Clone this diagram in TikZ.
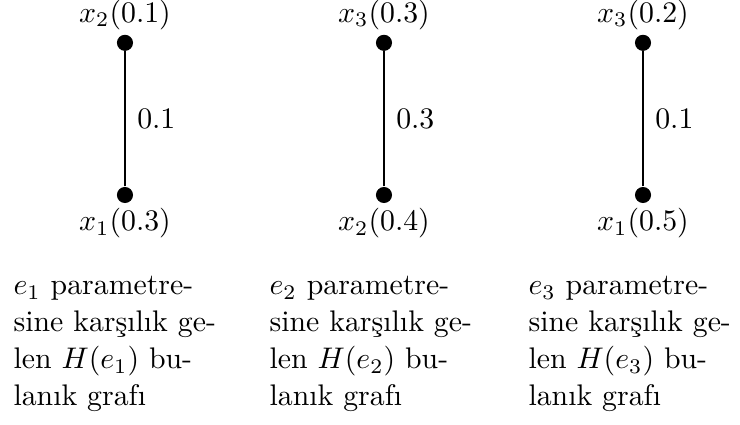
\documentclass[tikz,border=0pt]{standalone}
\usepackage{fontspec}
\usetikzlibrary{positioning}
\tikzset{
  vertex/.style={circle, fill=black, inner sep=0pt, minimum size=5.4pt},
  vlabel/.style={label distance=-2pt},
  wlabel/.style={right=0.6pt},
  caption/.style={anchor=north west, align=left, inner sep=0pt,
                  font=\fontsize{10}{12.4}\selectfont},
}

\begin{document}
\begin{tikzpicture}
  \useasboundingbox (0,0) rectangle (8.728,5.001);
  % H(e_1)
  \node[vertex, label={[vlabel]below:$x_1(0.3)$}] (a1) at (1.474,2.701) {};
  \node[vertex, label={[vlabel]above:$x_2(0.1)$}, above=1.591cm of a1] (a2) {};
  \draw (a1) -- (a2) node[midway, wlabel] (w1) {$0.1$};
  % H(e_2)
  \node[vertex, label={[vlabel]below:$x_2(0.4)$}] (b1) at (4.529,2.701) {};
  \node[vertex, label={[vlabel]above:$x_3(0.3)$}, above=1.591cm of b1] (b2) {};
  \draw (b1) -- (b2) node[midway, wlabel] (w2) {$0.3$};
  % H(e_3)
  \node[vertex, label={[vlabel]below:$x_1(0.5)$}] (c1) at (7.584,2.701) {};
  \node[vertex, label={[vlabel]above:$x_3(0.2)$}, above=1.591cm of c1] (c2) {};
  \draw (c1) -- (c2) node[midway, wlabel] (w3) {$0.1$};
  % captions
  \node[caption] (t1) at (0.153,1.749)
       {$e_1$ parametre-\\sine karşılık ge-\\len $H(e_1)$ bu-\\lanık grafı};
  \node[caption] (t2) at (3.173,1.749)
       {$e_2$ parametre-\\sine karşılık ge-\\len $H(e_2)$ bu-\\lanık grafı};
  \node[caption] (t3) at (6.227,1.749)
       {$e_3$ parametre-\\sine karşılık ge-\\len $H(e_3)$ bu-\\lanık grafı};
\end{tikzpicture}
\end{document}
